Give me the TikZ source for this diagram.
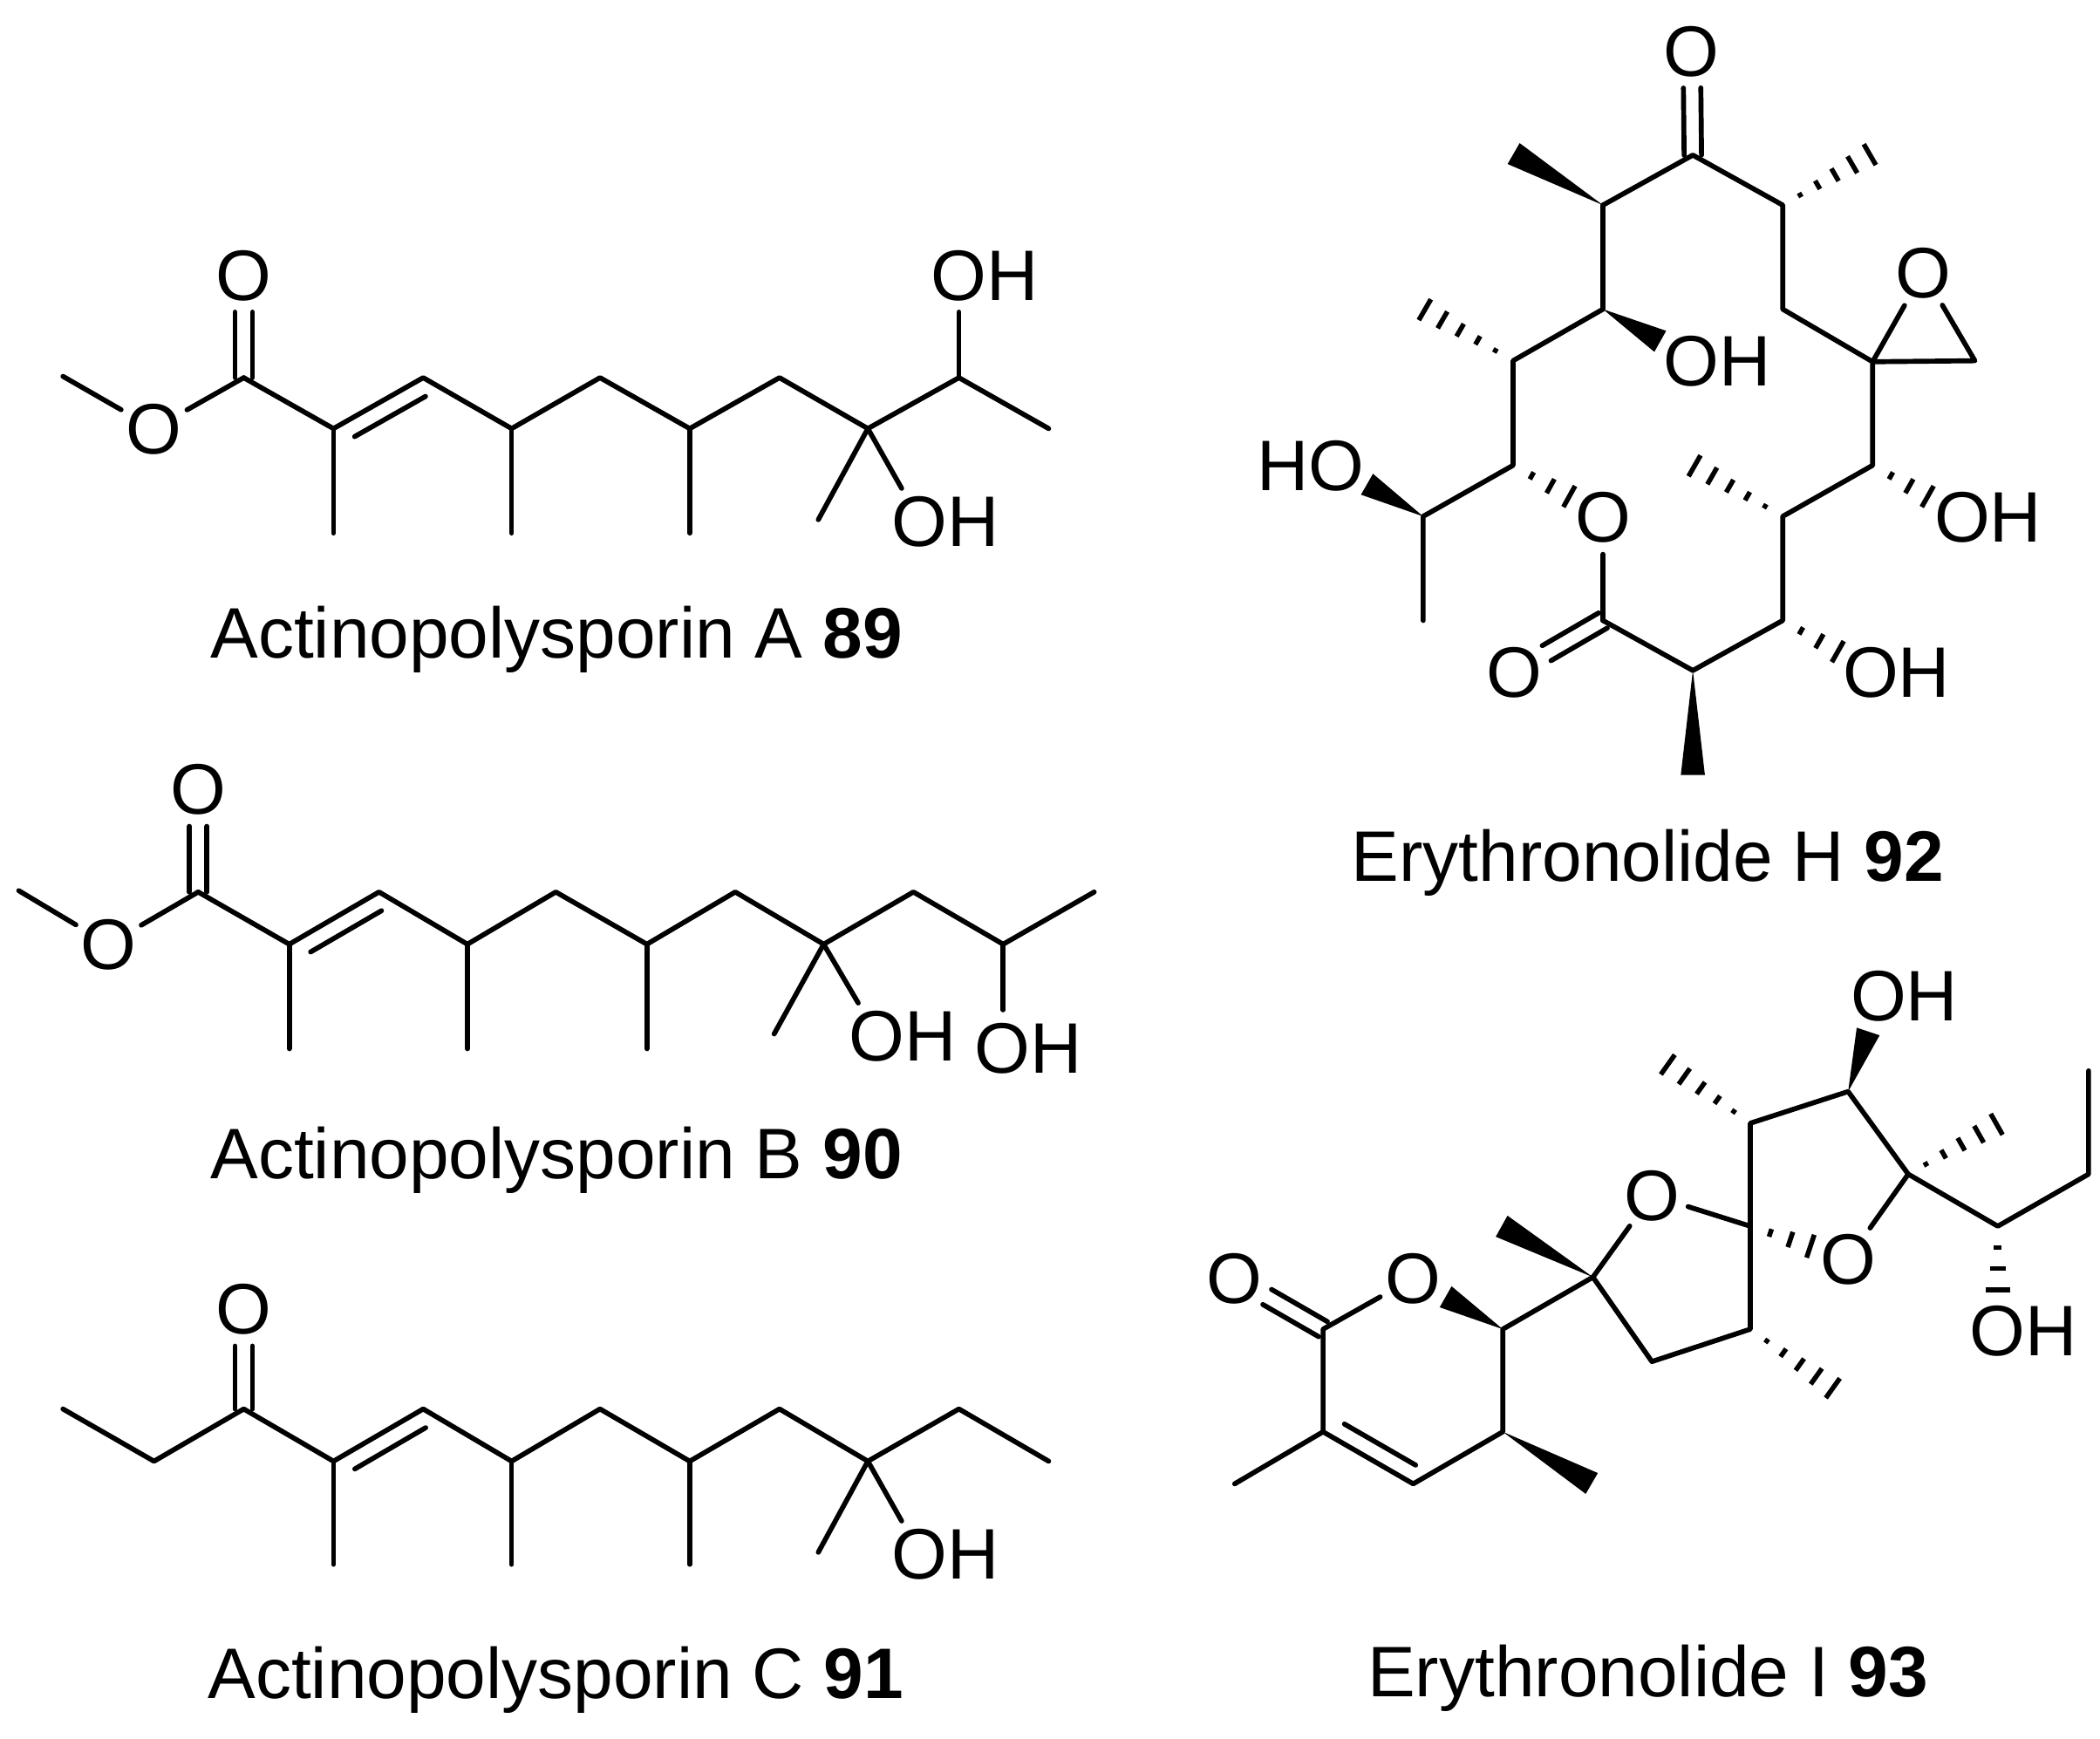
\documentclass[tikz,border=0pt]{standalone}
\usepackage{fontspec}
\setmainfont{Liberation Sans}
\usetikzlibrary{calc}
\tikzset{
  bond/.style={line width=3.7pt,line cap=round,line join=round,black},
  hashline/.style={line width=3.6pt,line cap=butt,black},
  atomO/.style={circle,inner sep=0pt,minimum size=56pt,font=\fontsize{53.4}{54}\selectfont,text height=38pt,text depth=0pt},
  atomOH/.style={inner sep=0pt,font=\fontsize{53.4}{54}\selectfont,text height=38pt,text depth=0pt},
  caption/.style={inner sep=0pt,anchor=base west,font=\fontsize{53.4}{54}\selectfont}
}
% bond from atom to the O of an OH label
\newcommand{\bondO}[2]{\draw[bond] (#1) -- ($(#2)!28pt!(#1)$);}
% carbonyl: C, O
\newcommand{\cdbl}[2]{%
  \draw[bond] ($(#2)!28pt!(#1)!6.5pt!90:(#1)$) -- ($(#1)!6.5pt!-90:(#2)$);
  \draw[bond] ($(#2)!28pt!(#1)!6.5pt!-90:(#1)$) -- ($(#1)!6.5pt!90:(#2)$);}
% inner line of C=C: A, B, side angle
\newcommand{\innerdbl}[3]{\draw[bond] ($(#1)!.14!(#2)!13pt!#3:(#2)$) -- ($(#1)!.93!(#2)!13pt!#3:(#2)$);}
\newcommand{\wedgebond}[2]{\fill[black] (#1) -- ($(#2)!9pt!90:(#1)$) -- ($(#2)!9pt!-90:(#1)$) -- cycle;}
\newcommand{\hashbond}[3]{\foreach \i in {1,...,#3}{%
  \draw[hashline] ($(#1)!\i/#3!(#2)!\i/#3*9pt!90:(#1)$) -- ($(#1)!\i/#3!(#2)!\i/#3*9pt!-90:(#1)$);}}
\begin{document}
\begin{tikzpicture}[x=1pt,y=-1pt]
\useasboundingbox (0,0) rectangle (1568,1298);
\fill[white] (0,0) rectangle (1568,1298);

% ---------- 89
\coordinate (A0) at (47,281);
\node[atomO] (Ao) at (115,320) {O};
\coordinate (A1) at (182,282);
\node[atomO] (Aco) at (182,205) {O};
\coordinate (A2) at (249,320);
\coordinate (A3) at (316,282);
\coordinate (A4) at (382,320);
\coordinate (A5) at (448,282);
\coordinate (A6) at (515,320);
\coordinate (A7) at (582,282);
\coordinate (A8) at (648,320);
\coordinate (A9) at (716,282);
\coordinate (A10) at (783,320);
\coordinate (Am2) at (249,398);
\coordinate (Am4) at (382,398);
\coordinate (Am6) at (515,398);
\coordinate (Am8) at (611,388);
\coordinate (Aoa) at (716,205);
\coordinate (Aob) at (687,389);
\node[atomOH] (Aoha) at ([xshift=19pt]Aoa) {OH};
\node[atomOH] (Aohb) at ([xshift=19pt]Aob) {OH};
\draw[bond] (A0) -- (Ao);
\draw[bond] (Ao) -- (A1);
\draw[bond] (A1) -- (A2) -- (A3) -- (A4) -- (A5) -- (A6) -- (A7) -- (A8) -- (A9) -- (A10);
\cdbl{A1}{Aco}
\innerdbl{A2}{A3}{-90}
\draw[bond] (A2) -- (Am2);
\draw[bond] (A4) -- (Am4);
\draw[bond] (A6) -- (Am6);
\draw[bond] (A8) -- (Am8);
\bondO{A8}{Aob}
\bondO{A9}{Aoa}
\node[caption] (Acap) at (157,491) {Actinopolysporin A \textbf{89}};

% ---------- 90
\coordinate (B0) at (14,665);
\node[atomO] (Bo) at (81,705) {O};
\coordinate (B1) at (148,666);
\node[atomO] (Bco) at (148,589) {O};
\coordinate (B2) at (216,705);
\coordinate (B3) at (283,666);
\coordinate (B4) at (349,705);
\coordinate (B5) at (415,666);
\coordinate (B6) at (483,705);
\coordinate (B7) at (549,666);
\coordinate (B8) at (615,705);
\coordinate (B9) at (682,666);
\coordinate (B10) at (749,705);
\coordinate (B11) at (817,666);
\coordinate (Bm2) at (216,783);
\coordinate (Bm4) at (349,783);
\coordinate (Bm6) at (483,783);
\coordinate (Bm8) at (578,772);
\coordinate (Boa) at (655,773);
\coordinate (Bob) at (749,782);
\node[atomOH] (Boha) at ([xshift=19pt]Boa) {OH};
\node[atomOH] (Bohb) at ([xshift=19pt]Bob) {OH};
\draw[bond] (B0) -- (Bo);
\draw[bond] (Bo) -- (B1);
\draw[bond] (B1) -- (B2) -- (B3) -- (B4) -- (B5) -- (B6) -- (B7) -- (B8) -- (B9) -- (B10) -- (B11);
\cdbl{B1}{Bco}
\innerdbl{B2}{B3}{-90}
\draw[bond] (B2) -- (Bm2);
\draw[bond] (B4) -- (Bm4);
\draw[bond] (B6) -- (Bm6);
\draw[bond] (B8) -- (Bm8);
\bondO{B8}{Boa}
\bondO{B10}{Bob}
\node[caption] (Bcap) at (157,880) {Actinopolysporin B \textbf{90}};

% ---------- 91
\coordinate (C0) at (47,1052);
\coordinate (Co) at (115,1091);
\coordinate (C1) at (182,1052);
\node[atomO] (Cco) at (182,977) {O};
\coordinate (C2) at (249,1091);
\coordinate (C3) at (316,1052);
\coordinate (C4) at (382,1091);
\coordinate (C5) at (448,1052);
\coordinate (C6) at (515,1091);
\coordinate (C7) at (582,1052);
\coordinate (C8) at (648,1091);
\coordinate (C9) at (716,1052);
\coordinate (C10) at (783,1091);
\coordinate (Cm2) at (249,1168);
\coordinate (Cm4) at (382,1168);
\coordinate (Cm6) at (515,1168);
\coordinate (Cm8) at (611,1159);
\coordinate (Cob) at (687,1160);
\node[atomOH] (Cohb) at ([xshift=19pt]Cob) {OH};
\draw[bond] (C0) -- (Co) -- (C1) -- (C2) -- (C3) -- (C4) -- (C5) -- (C6) -- (C7) -- (C8) -- (C9) -- (C10);
\cdbl{C1}{Cco}
\innerdbl{C2}{C3}{-90}
\draw[bond] (C2) -- (Cm2);
\draw[bond] (C4) -- (Cm4);
\draw[bond] (C6) -- (Cm6);
\draw[bond] (C8) -- (Cm8);
\bondO{C8}{Cob}
\node[caption] (Ccap) at (155,1268) {Actinopolysporin C \textbf{91}};

% ---------- 92
\begin{scope}[shift={(911.6pt,-1.5pt)},x=.4195pt,y=-.381pt]
\coordinate (Dk) at (840,300);
\node[atomO] (Dko) at (838,95) {O};
\coordinate (Da) at (680,398);
\coordinate (Dam) at (521,297);
\coordinate (Db) at (680,602);
\coordinate (Dbw) at (782,665);
\coordinate (Dboh) at (838,703);
\node[atomOH] (Dbohn) at ([xshift=19pt]Dboh) {OH};
\coordinate (Dc) at (520,703);
\coordinate (Dcm) at (363,603);
\coordinate (Dd) at (520,908);
\coordinate (De) at (360,1008);
\coordinate (Dew) at (260,945);
\coordinate (Deoh) at (205,908);
\node[atomOH] (Deohn) at ([xshift=-19pt]Deoh) {HO};
\coordinate (Df) at (360,1212);
\node[atomO] (Dlo) at (680,1008) {O};
\coordinate (Ddh) at (620,969);
\coordinate (Dg) at (680,1212);
\node[atomO] (Dgo) at (522,1313) {O};
\coordinate (Dh) at (840,1310);
\coordinate (Dhm) at (840,1515);
\coordinate (Di) at (1000,1212);
\coordinate (Dih) at (1098,1273);
\coordinate (Dioh) at (1157,1313);
\node[atomOH] (Diohn) at ([xshift=19pt]Dioh) {OH};
\coordinate (Dj) at (1000,1008);
\coordinate (Djm) at (843,909);
\coordinate (Dm) at (1160,908);
\coordinate (Dmh) at (1258,969);
\coordinate (Dmoh) at (1320,1008);
\node[atomOH] (Dmohn) at ([xshift=19pt]Dmoh) {OH};
\coordinate (Dn) at (1160,705);
\node[atomO] (Dox) at (1250,530) {O};
\coordinate (Dp) at (1342,703);
\coordinate (Dq) at (1000,602);
\coordinate (Dr) at (1000,398);
\coordinate (Drm) at (1155,299);
\draw[bond] (Da) -- (Dk) -- (Dr) -- (Dq) -- (Dn) -- (Dm) -- (Dj) -- (Di) -- (Dh) -- (Dg);
\draw[bond] (Dg) -- (Dlo);
\draw[bond] (Da) -- (Db) -- (Dc) -- (Dd) -- (De) -- (Df);
\draw[bond] (Dn) -- (Dox);
\draw[bond] (Dox) -- (Dp) -- (Dn);
\cdbl{Dk}{Dko}
\cdbl{Dg}{Dgo}
\wedgebond{Da}{Dam}
\wedgebond{Db}{Dbw}
\wedgebond{De}{Dew}
\wedgebond{Dh}{Dhm}
\hashbond{Dc}{Dcm}{5}
\hashbond{Dj}{Djm}{5}
\hashbond{Dr}{Drm}{5}
\hashbond{Dd}{Ddh}{3}
\hashbond{Di}{Dih}{3}
\hashbond{Dm}{Dmh}{3}
\end{scope}
\node[caption] (Dcap) at (1009,658) {Erythronolide H \textbf{92}};

% ---------- 93
\begin{scope}[shift={(879.2pt,-711.75pt)},x=.44pt,y=-.2717pt]
\coordinate (Em) at (97,1458);
\coordinate (Ea) at (247,1315);
\coordinate (Eb) at (400,1458);
\coordinate (Ec) at (552,1315);
\coordinate (Ecw) at (703,1457);
\coordinate (Ed) at (552,1033);
\coordinate (Edw) at (455,944);
\node[atomO] (Ero) at (400,893) {O};
\coordinate (Ee) at (247,1033);
\node[atomO] (Eco) at (97,893) {O};
\coordinate (Ef) at (705,890);
\coordinate (Efw) at (550,750);
\node[atomO] (Eo2) at (805,665) {O};
\coordinate (Eg) at (972,750);
\coordinate (Eh) at (805,1122);
\coordinate (Ei) at (972,1033);
\coordinate (Eim) at (1112,1195);
\coordinate (Ej) at (972,467);
\coordinate (Ejm) at (832,306);
\coordinate (Ek) at (1138,380);
\coordinate (Ekw) at (1172,215);
\coordinate (Ekoh) at (1190,115);
\node[atomOH] (Ekohn) at ([xshift=19pt]Ekoh) {OH};
\coordinate (El) at (1240,607);
\coordinate (Elm) at (1390,470);
\node[atomO] (Eo3) at (1138,840) {O};
\coordinate (Egh) at (1074,805);
\coordinate (Ep) at (1392,750);
\coordinate (Eq) at (1546,607);
\coordinate (Er) at (1546,323);
\coordinate (Eph) at (1392,925);
\coordinate (Epoh) at (1392,1035);
\node[atomOH] (Epohn) at ([xshift=19pt]Epoh) {OH};
\draw[bond] (Em) -- (Ea) -- (Eb) -- (Ec) -- (Ed) -- (Ef) -- (Eh) -- (Ei) -- (Eg) -- (Ej) -- (Ek) -- (El) -- (Ep) -- (Eq) -- (Er);
\draw[bond] (Ea) -- (Ee) -- (Ero);
\draw[bond] (Ef) -- (Eo2);
\draw[bond] (Eo2) -- (Eg);
\draw[bond] (El) -- (Eo3);
\cdbl{Ee}{Eco}
\innerdbl{Ea}{Eb}{90}
\wedgebond{Ec}{Ecw}
\wedgebond{Ed}{Edw}
\wedgebond{Ef}{Efw}
\wedgebond{Ek}{Ekw}
\hashbond{Ej}{Ejm}{5}
\hashbond{El}{Elm}{5}
\hashbond{Ei}{Eim}{5}
\hashbond{Eg}{Egh}{3}
\hashbond{Ep}{Eph}{3}
\end{scope}
\node[caption] (Ecap) at (1021,1267) {Erythronolide I \textbf{93}};
\end{tikzpicture}
\end{document}
